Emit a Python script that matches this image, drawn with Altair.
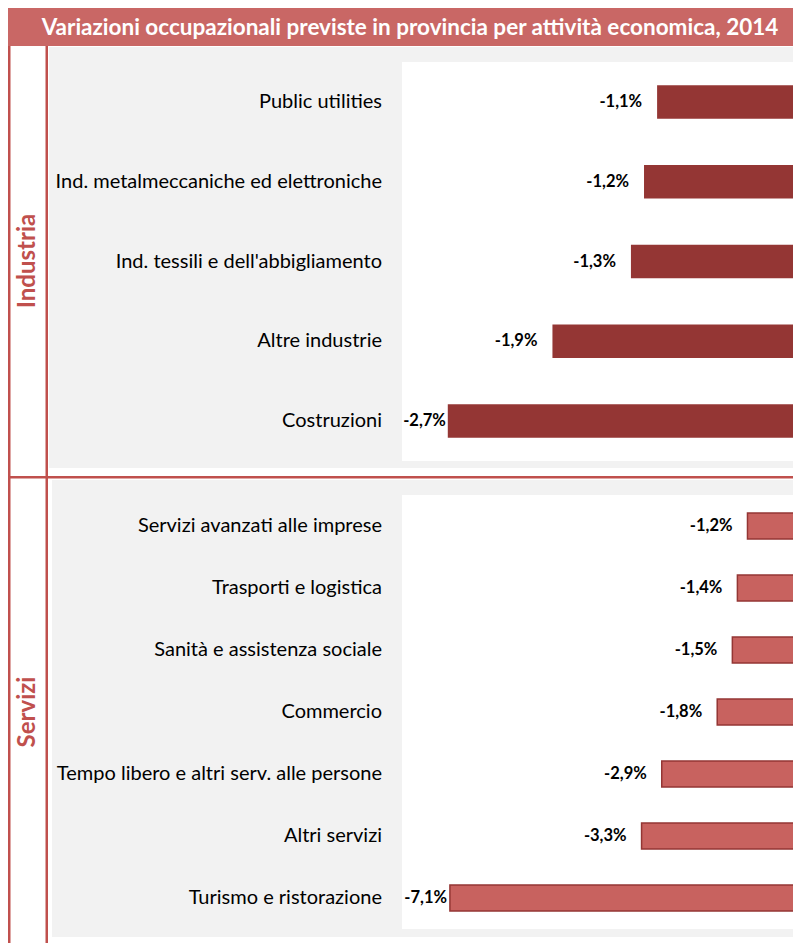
import altair as alt
import pandas as pd

title_text = "Variazioni occupazionali previste in provincia per attività economica, 2014"
sections = ["Industria", "Servizi"]

ind_cats = ["Public utilities", "Ind. metalmeccaniche ed elettroniche",
            "Ind. tessili e dell'abbigliamento", "Altre industrie", "Costruzioni"]
ind_vals = [-1.1, -1.2, -1.3, -1.9, -2.7]

ser_cats = ["Servizi avanzati alle imprese", "Trasporti e logistica",
            "Sanità e assistenza sociale", "Commercio",
            "Tempo libero e altri serv. alle persone", "Altri servizi",
            "Turismo e ristorazione"]
ser_vals = [-1.2, -1.4, -1.5, -1.8, -2.9, -3.3, -7.1]

W, H = 785, 935
FONT = "Lato"
RED_LINE = "#c0504d"
TITLE_BG = "#c96765"
GREY = "#f2f2f2"


def fmt(v):
    return f"{v:.1f}%".replace(".", ",")


ind_df = pd.DataFrame({"cat": ind_cats, "v": ind_vals, "lab": [fmt(v) for v in ind_vals]})
ser_df = pd.DataFrame({"cat": ser_cats, "v": ser_vals, "lab": [fmt(v) for v in ser_vals]})
one = pd.DataFrame({"k": [0]})


def rect(x, x2, y, y2, color):
    return alt.Chart(one).mark_rect(color=color).encode(
        x=alt.value(x), x2=alt.value(x2), y=alt.value(y), y2=alt.value(y2))


def panel(df, cats, dom, yr, fill, stroke, sw, clamp):
    ysc = alt.Scale(domain=cats, range=yr, paddingInner=0.58, paddingOuter=0.29)
    xsc = alt.Scale(domain=dom, range=[394, 793], nice=False, zero=False)
    y = alt.Y("cat:N", scale=ysc, axis=None, sort=None)
    labels = alt.Chart(df).mark_text(
        align="right", baseline="middle", font=FONT, fontSize=20, color="#000000"
    ).encode(x=alt.value(374), y=y, text="cat:N")
    bars = alt.Chart(df).mark_bar(
        color=fill, stroke=stroke, strokeWidth=sw, clip=True
    ).encode(x=alt.X("v:Q", scale=xsc, axis=None), x2=alt.datum(0), y=y)
    vals = alt.Chart(df).transform_calculate(
        lx=f"max(datum.v, {clamp})"
    ).mark_text(
        align="right", baseline="middle", dx=-15, font=FONT, fontSize=16.5,
        fontWeight="bold", color="#000000"
    ).encode(x=alt.X("lx:Q", scale=xsc, axis=None), y=y, text="lab:N")
    return [labels, bars, vals]


deco = [
    rect(0, W, 0, 38, TITLE_BG),
    rect(41, W, 39, 460, GREY),
    rect(394, W, 54, 453, "#ffffff"),
    rect(44, W, 472, 929, GREY),
    rect(394, W, 487, 921, "#ffffff"),
    rect(0, 2.5, 38, H, RED_LINE),
    rect(37.5, 40, 38, H, RED_LINE),
    rect(0, W, 468, 470.5, RED_LINE),
]

title = alt.Chart(one).mark_text(
    text=title_text, align="center", baseline="middle", font=FONT,
    fontSize=22.5, fontWeight="bold", color="#ffffff"
).encode(x=alt.value(402), y=alt.value(19.5))

strip1 = alt.Chart(one).mark_text(
    text=sections[0], angle=270, align="center", baseline="middle", font=FONT,
    fontSize=24, fontWeight="bold", color=RED_LINE
).encode(x=alt.value(19.5), y=alt.value(253))
strip2 = alt.Chart(one).mark_text(
    text=sections[1], angle=270, align="center", baseline="middle", font=FONT,
    fontSize=24, fontWeight="bold", color=RED_LINE
).encode(x=alt.value(19.5), y=alt.value(704))

ind_layers = panel(ind_df, ind_cats, [-3.05, 0], [54, 453], "#943634", None, 0, -2.6)
ser_layers = panel(ser_df, ser_cats, [-8.05, -0.139], [487, 921], "#c8625f", "#943634", 1.5, -6.86)

chart = alt.layer(
    *deco, title, strip1, strip2, *ind_layers, *ser_layers
).resolve_scale(x="independent", y="independent").properties(
    width=W, height=H, padding=0, background="#ffffff"
).configure_view(stroke=None)

chart.save("out.html", embed_options={"renderer": "svg", "actions": False})
